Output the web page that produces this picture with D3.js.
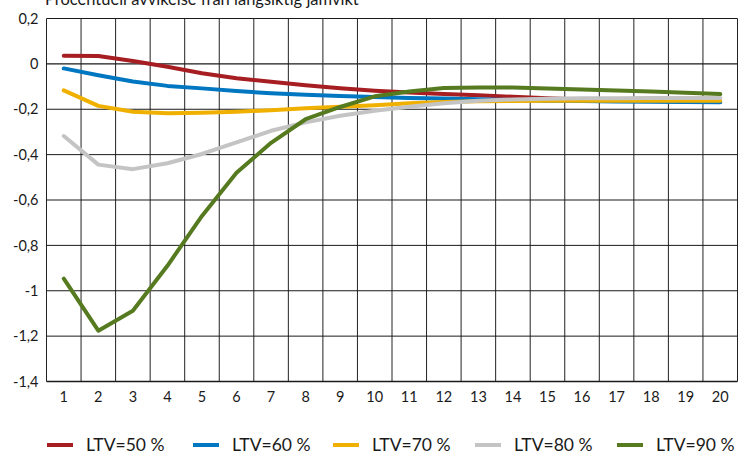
<!DOCTYPE html>
<html>
<head>
<meta charset="utf-8">
<script src="https://cdn.jsdelivr.net/npm/d3@7"></script>
<style>
  html, body { margin: 0; padding: 0; background: #fff; }
  svg { display: block; }
  text { font-family: "Lato", "Open Sans", sans-serif; fill: #1a1a1a; }
</style>
</head>
<body>
<svg id="chart" width="739" height="452"></svg>
<script>
const title = "Procentuell avvikelse från långsiktig jämvikt";
const periods = d3.range(1, 21);
const yTicks = [0.2, 0, -0.2, -0.4, -0.6, -0.8, -1, -1.2, -1.4];
const seriesNames = ["LTV=50 %", "LTV=60 %", "LTV=70 %", "LTV=80 %", "LTV=90 %"];
const seriesColors = ["#a61e22", "#0077c0", "#f0b000", "#c4c4c4", "#567a1f"];

const ltv50 = [0.036, 0.035, 0.013, -0.013, -0.041, -0.063, -0.079, -0.094, -0.107, -0.118, -0.126, -0.133, -0.138, -0.145, -0.152, -0.157, -0.161, -0.164, -0.166, -0.168];
const ltv60 = [-0.020, -0.050, -0.078, -0.097, -0.108, -0.120, -0.129, -0.136, -0.142, -0.146, -0.150, -0.153, -0.156, -0.159, -0.162, -0.164, -0.166, -0.167, -0.168, -0.169];
const ltv70 = [-0.117, -0.185, -0.211, -0.218, -0.215, -0.211, -0.204, -0.196, -0.189, -0.182, -0.174, -0.168, -0.165, -0.164, -0.163, -0.163, -0.163, -0.163, -0.163, -0.163];
const ltv80 = [-0.318, -0.444, -0.464, -0.438, -0.397, -0.346, -0.295, -0.258, -0.229, -0.207, -0.189, -0.174, -0.163, -0.157, -0.154, -0.152, -0.151, -0.150, -0.150, -0.150];
const ltv90 = [-0.947, -1.176, -1.088, -0.890, -0.670, -0.480, -0.348, -0.244, -0.190, -0.143, -0.122, -0.106, -0.104, -0.104, -0.108, -0.113, -0.117, -0.122, -0.127, -0.133];
const seriesValues = [ltv50, ltv60, ltv70, ltv80, ltv90];

(function () {
const svg = d3.select("#chart");
const mLeft = 46.5, mRight = 737.5, mTop = 18.5, mBottom = 381.5;

const x = d3.scaleBand().domain(periods).range([mLeft, mRight]);
const y = d3.scaleLinear().domain([-1.4, 0.2]).range([mBottom, mTop]);
const fmtTick = v => {
  if (Math.abs(v) < 1e-9) return "0";
  return (Math.round(v * 10) / 10).toString().replace(".", ",");
};

// vertical gridlines
const g = svg.append("g");
g.selectAll("line.v").data(d3.range(0, 21)).join("line")
  .attr("x1", i => mLeft + i * x.bandwidth())
  .attr("x2", i => mLeft + i * x.bandwidth())
  .attr("y1", mTop).attr("y2", mBottom)
  .attr("stroke", "#222").attr("stroke-width", 1);

// horizontal gridlines
g.selectAll("line.h").data(yTicks).join("line")
  .attr("x1", mLeft).attr("x2", mRight)
  .attr("y1", d => y(d)).attr("y2", d => y(d))
  .attr("stroke", "#1a1a1a").attr("stroke-width", d => (Math.abs(d) < 1e-9 || d === -1.4) ? 1.4 : 1);

// y axis labels
const yAxis = d3.axisLeft(y).tickValues(yTicks).tickSize(0).tickPadding(0).tickFormat(fmtTick);
svg.append("g").attr("transform", `translate(${mLeft - 8},0)`).call(yAxis)
  .call(s => s.select(".domain").remove())
  .selectAll("text").style("font-size", "14.5px").style("font-family", "Lato, sans-serif").attr("fill", "#1a1a1a");

// x axis labels
const xAxis = d3.axisBottom(x).tickSize(0).tickPadding(0);
svg.append("g").attr("transform", `translate(0,${mBottom + 10})`).call(xAxis)
  .call(s => s.select(".domain").remove())
  .selectAll("text").style("font-size", "14.5px").style("font-family", "Lato, sans-serif").attr("fill", "#1a1a1a");

// lines
const line = d3.line().x((d, i) => x(periods[i]) + x.bandwidth() / 2).y(d => y(d));
svg.append("g").selectAll("path").data(seriesValues).join("path")
  .attr("d", d => line(d))
  .attr("fill", "none")
  .attr("stroke", (d, i) => seriesColors[i])
  .attr("stroke-width", 4)
  .attr("stroke-linejoin", "round")
  .attr("stroke-linecap", "round");

// title
svg.append("text").attr("x", 45).attr("y", 5).style("font-size", "16.5px").text(title);

// legend
const legendX = [47, 193, 333, 475, 617];
const lg = svg.append("g");
seriesNames.forEach((n, i) => {
  lg.append("line").attr("x1", legendX[i]).attr("x2", legendX[i] + 26)
    .attr("y1", 445).attr("y2", 445)
    .attr("stroke", seriesColors[i]).attr("stroke-width", 4);
  lg.append("text").attr("x", legendX[i] + 39).attr("y", 451).style("font-size", "17.5px").text(n);
});
})();
</script>
</body>
</html>
